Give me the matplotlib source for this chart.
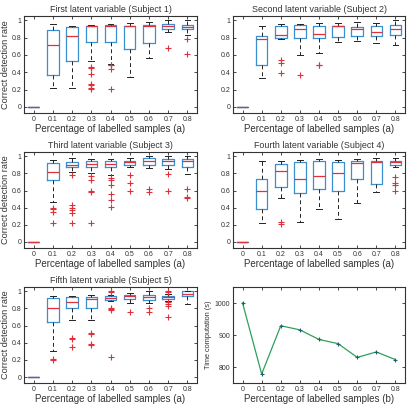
import matplotlib.pyplot as plt
import numpy as np

plt.rcParams['font.family'] = ['Liberation Sans', 'DejaVu Sans']

# =============================================================================
# Data
# =============================================================================
ratios = ['0', '0.1', '0.2', '0.3', '0.4', '0.5', '0.6', '0.7', '0.8']

titles = ['First latent variable (Subject 1)',
          'Second latent variable (Subject 2)',
          'Third latent variable (Subject 3)',
          'Fourth latent variable (Subject 4)',
          'Fifth latent variable (Subject 5)']

# subject 1
med1 = [0, 0.72, 0.82, 0.93, 0.93, 0.93, 0.93, 0.94, 0.92]
q1_1 = [0, 0.37, 0.53, 0.75, 0.75, 0.67, 0.74, 0.90, 0.90]
q3_1 = [0, 0.89, 0.92, 0.94, 0.95, 0.94, 0.95, 0.96, 0.95]
lo1 = [0, 0.22, 0.22, 0.53, 0.50, 0.34, 0.56, 0.87, 0.83]
hi1 = [0, 0.96, 0.94, 0.95, 0.96, 0.97, 0.98, 1.0, 1.0]
fl1 = [[], [], [], [0.46, 0.45, 0.38, 0.27, 0.25, 0.22, 0.21],
       [0.49, 0.48, 0.44, 0.21], [], [], [0.68], [0.78, 0.61]]

# subject 2
med2 = [0, 0.78, 0.83, 0.90, 0.84, 0.93, 0.90, 0.87, 0.90]
q1_2 = [0, 0.48, 0.80, 0.80, 0.80, 0.81, 0.82, 0.82, 0.83]
q3_2 = [0, 0.82, 0.94, 0.95, 0.93, 0.94, 0.92, 0.93, 0.95]
lo2 = [0, 0.33, 0.79, 0.60, 0.62, 0.75, 0.76, 0.74, 0.72]
hi2 = [0, 0.94, 0.96, 0.96, 0.97, 0.97, 0.98, 0.97, 1.0]
fl2 = [[], [], [0.54, 0.51, 0.39], [0.37], [0.49, 0.48], [], [], [], []]

# subject 3
med3 = [0, 0.82, 0.90, 0.91, 0.91, 0.93, 0.94, 0.94, 0.94]
q1_3 = [0, 0.72, 0.87, 0.88, 0.87, 0.90, 0.90, 0.90, 0.88]
q3_3 = [0, 0.92, 0.93, 0.94, 0.94, 0.95, 0.98, 0.97, 0.97]
lo3 = [0, 0.47, 0.82, 0.80, 0.78, 0.88, 0.86, 0.85, 0.79]
hi3 = [0, 0.96, 0.98, 0.97, 0.97, 0.98, 1.0, 1.0, 1.0]
fl3 = [[], [0.40, 0.38, 0.35, 0.22],
       [0.78, 0.43, 0.40, 0.37, 0.34, 0.22],
       [0.77, 0.72, 0.60, 0.58, 0.22],
       [0.75, 0.72, 0.66, 0.56, 0.49, 0.41],
       [0.78, 0.69, 0.59], [0.62, 0.58], [0.79, 0.59], [0.62, 0.52, 0.51]]

# subject 4
med4 = [0, 0.59, 0.83, 0.74, 0.77, 0.80, 0.92, 0.93, 0.93]
q1_4 = [0, 0.38, 0.64, 0.57, 0.62, 0.60, 0.74, 0.68, 0.90]
q3_4 = [0, 0.74, 0.91, 0.93, 0.94, 0.93, 0.94, 0.95, 0.95]
lo4 = [0, 0.22, 0.51, 0.23, 0.38, 0.27, 0.45, 0.58, 0.87]
hi4 = [0, 0.95, 0.95, 0.96, 0.97, 0.96, 0.97, 0.98, 0.98]
fl4 = [[], [], [0.23, 0.21], [], [], [], [], [], [0.76, 0.69, 0.67, 0.60]]

# subject 5
med5 = [0, 0.80, 0.88, 0.91, 0.92, 0.94, 0.93, 0.93, 0.97]
q1_5 = [0, 0.64, 0.80, 0.80, 0.90, 0.91, 0.90, 0.91, 0.94]
q3_5 = [0, 0.92, 0.93, 0.93, 0.94, 0.96, 0.96, 0.95, 1.0]
lo5 = [0, 0.30, 0.66, 0.67, 0.89, 0.86, 0.86, 0.89, 0.85]
hi5 = [0, 0.94, 0.94, 0.96, 0.96, 0.98, 1.0, 0.97, 1.0]
fl5 = [[], [0.21, 0.20], [0.45, 0.44, 0.35], [0.51, 0.50, 0.38, 0.37],
       [1.0, 0.99, 0.80, 0.79, 0.78, 0.23], [0.76], [0.80, 0.76],
       [1.0, 0.99, 0.87, 0.85, 0.83, 0.70], []]

# time computation
time_ratio = [0, 0.1, 0.2, 0.3, 0.4, 0.5, 0.6, 0.7, 0.8]
time_s = [1000, 778, 929, 916, 886, 873, 830, 847, 823]

subjects = [(med1, q1_1, q3_1, lo1, hi1, fl1),
            (med2, q1_2, q3_2, lo2, hi2, fl2),
            (med3, q1_3, q3_3, lo3, hi3, fl3),
            (med4, q1_4, q3_4, lo4, hi4, fl4),
            (med5, q1_5, q3_5, lo5, hi5, fl5)]

# =============================================================================
# Layout
# =============================================================================
W, H = 409, 404
left_cols = [24, 233]
right_cols = [197, 405]
rows = [(16, 113), (152, 248), (287, 383)]

def makeAxes(fig, r, c):
    x0, x1 = left_cols[c], right_cols[c]
    y0, y1 = rows[r]
    return fig.add_axes([x0 / W, 1 - y1 / H, (x1 - x0) / W, (y1 - y0) / H])

def styleAxes(ax):
    ax.tick_params(direction='in', top=True, right=True, labelsize=5,
                   length=2, width=0.5, pad=2, labelcolor='#333333')
    for s in ax.spines.values():
        s.set_linewidth(0.8)
        s.set_color('#333333')

fig = plt.figure(figsize=(W / 100, H / 100), dpi=100)

for k, (med, q1, q3, lo, hi, fl) in enumerate(subjects):
    r, c = divmod(k, 2)
    ax = makeAxes(fig, r, c)
    stats = []
    for i in range(len(ratios)):
        stats.append(dict(med=med[i], q1=q1[i], q3=q3[i],
                          whislo=lo[i], whishi=hi[i], fliers=fl[i]))
    ax.bxp(stats, positions=np.arange(1, 10), widths=0.6, capwidths=0.3,
           boxprops=dict(color='#3a8fd0', linewidth=0.9),
           medianprops=dict(color='#e0303a', linewidth=0.9),
           whiskerprops=dict(color='#222222', linestyle=(0, (4, 3)), linewidth=0.7),
           capprops=dict(color='#222222', linewidth=0.7),
           flierprops=dict(marker='+', markeredgecolor='#e0303a',
                           markersize=4, markeredgewidth=0.8))
    ax.set_xlim(0.5, 9.5)
    ax.set_ylim(-0.07, 1.05)
    ax.set_xticks(np.arange(1, 10))
    ax.set_xticklabels(ratios)
    ax.set_yticks([0, 0.2, 0.4, 0.6, 0.8, 1])
    ax.set_yticklabels(['0', '0.2', '0.4', '0.6', '0.8', '1'])
    ax.set_title(titles[k], fontsize=6.4, color='#333333', pad=3)
    ax.set_xlabel('Percentage of labelled samples (a)', fontsize=7,
                  color='#333333', labelpad=1)
    if c == 0:
        ax.set_ylabel('Correct detection rate', fontsize=6.6,
                      color='#333333', labelpad=1)
    styleAxes(ax)

# time panel
ax = makeAxes(fig, 2, 1)
ax.plot(time_ratio, time_s, color='#2ea05a', linewidth=0.9,
        marker='+', markersize=3.5, markeredgecolor='#1f5f70',
        markeredgewidth=0.8)
ax.set_xlim(-0.05, 0.85)
ax.set_ylim(750, 1050)
ax.set_xticks(time_ratio)
ax.set_xticklabels(ratios)
ax.set_yticks([800, 900, 1000])
ax.set_xlabel('Percentage of labelled samples (b)', fontsize=7,
              color='#333333', labelpad=1)
ax.set_ylabel('Time computation (s)', fontsize=5.3, color='#333333', labelpad=2)
styleAxes(ax)

plt.savefig('out.png', dpi=100)
